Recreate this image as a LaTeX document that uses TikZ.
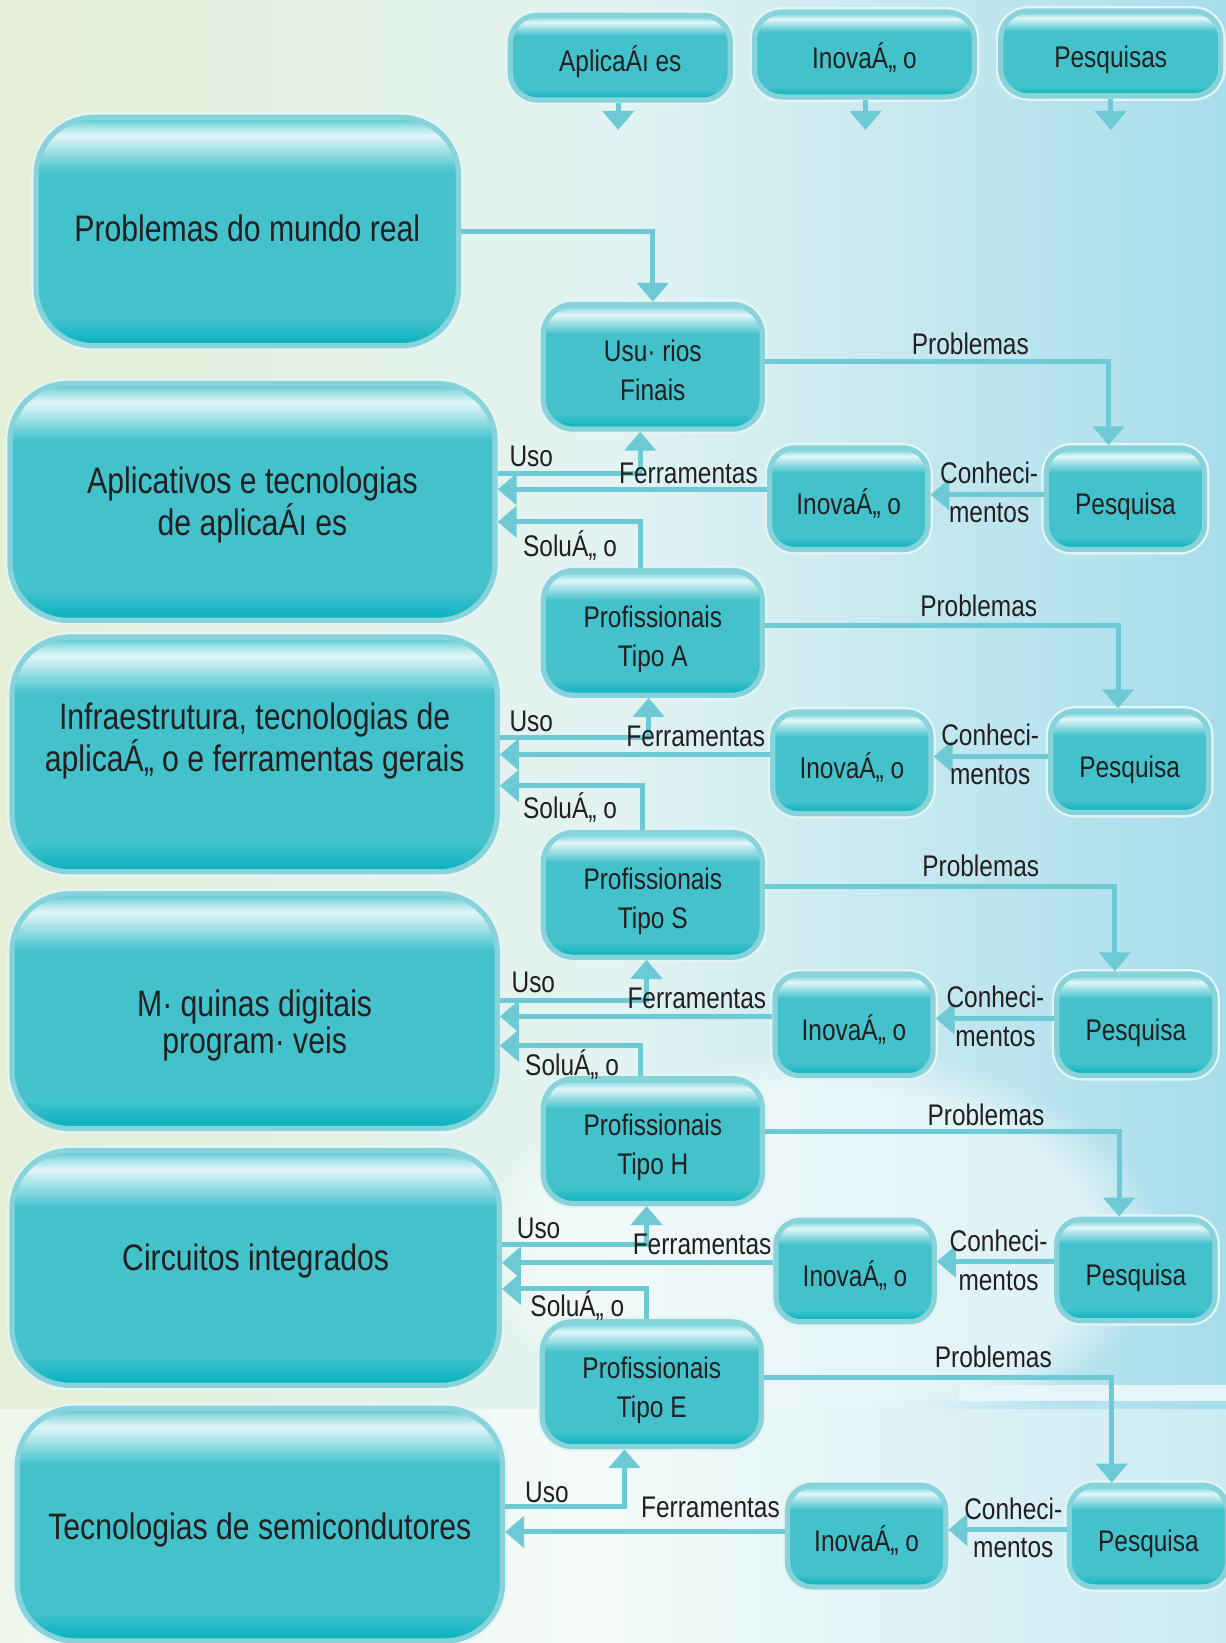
\documentclass[tikz,border=0pt]{standalone}
\usepackage{fontspec}
\setmainfont{Liberation Sans}[FakeStretch=0.82]
\usetikzlibrary{arrows.meta, fadings}

\definecolor{ink}{HTML}{231F20}
\definecolor{tealmain}{HTML}{43C2CC}
\definecolor{tealdark}{HTML}{03B0BE}
\definecolor{tealhi}{HTML}{E2F6F8}
\definecolor{rim}{HTML}{88D2DA}
\definecolor{glow}{HTML}{E4F5F6}
\definecolor{flowc}{HTML}{6DCAD4}
\definecolor{bgleft}{HTML}{E6F0D6}
\definecolor{bgmid}{HTML}{E2F3F2}
\definecolor{bgright}{HTML}{A8DDEC}
\definecolor{lowleft}{HTML}{EEF6EC}
\definecolor{lowmid}{HTML}{F3FAF8}
\definecolor{lowright}{HTML}{CBEBF3}

\newlength\pxu
\setlength\pxu{0.021cm}

\pgfdeclareverticalshading{glossy}{100bp}{color(0bp)=(tealdark); color(25bp)=(tealdark); color(28bp)=(tealdark!50!tealmain); color(31bp)=(tealmain); color(63bp)=(tealmain); color(71bp)=(tealhi); color(73.5bp)=(tealmain!50!tealhi); color(75bp)=(tealmain); color(100bp)=(tealmain)}

\begin{document}
\begin{tikzpicture}[
        x=\pxu, y=-\pxu,
        every node/.style={text=ink, align=center, inner sep=0pt, font=\fontsize{17}{22}\selectfont},
        box/.style={shading=glossy, draw=rim, line width=3pt, preaction={draw=glow, line width=5.6pt}},
        big_box/.style={box, rounded corners=1.15cm, minimum width=463*\pxu, minimum height=224*\pxu, font=\fontsize{21}{21}\selectfont, text depth=0pt},
        mid_box/.style={box, rounded corners=0.6cm, minimum width=209*\pxu, minimum height=119*\pxu, text height=38pt, text depth=0pt},
        small_box/.style={box, rounded corners=0.5cm, minimum width=151*\pxu, minimum height=97*\pxu, text height=18pt, text depth=0pt},
        top_box/.style={box, rounded corners=0.55cm, minimum width=210*\pxu, minimum height=81*\pxu, text height=16pt, text depth=0pt},
        flow/.style={draw=flowc, line width=0.1cm, -{Triangle[length=0.38cm, width=0.62cm]}}
        ]
    \useasboundingbox (0,0) rectangle (1170,1568);
    % background
    \shade[left color=bgleft, right color=bgright, middle color=bgmid] (0,0) rectangle (1170,1345);
    \fill[white, opacity=0.55, path fading=circle with fuzzy edge 20 percent] (780,1190) ellipse (330 and 190);
    \shade[left color=lowleft, right color=lowright, middle color=lowmid] (0,1345) rectangle (1170,1568);
    \fill[white!70!bgright] (915,1322) rectangle (1170,1337);

    % top row
    \node[top_box] (top_app) at (592,55) {AplicaÁı es};
    \node[top_box] (top_inov) at (825,52) {InovaÁ„ o};
    \node[top_box] (top_pesq) at (1060,51) {Pesquisas};
    \coordinate (app_out) at (590,124);
    \coordinate (inov_out) at (826,124);
    \coordinate (pesq_out) at (1060,124);
    \draw[flow] (top_app.south -| app_out) -- (app_out);
    \draw[flow] (top_inov.south -| inov_out) -- (inov_out);
    \draw[flow] (top_pesq.south -| pesq_out) -- (pesq_out);

    % left column
    \node[big_box, minimum width=403*\pxu, minimum height=218*\pxu, text height=15pt, text depth=3.6pt] (real) at (236,221) {Problemas do mundo real};
    \node[big_box, minimum height=226*\pxu, text height=37.8pt] (apps) at (241,479) {Aplicativos e tecnologias\\de aplicaÁı es};
    \node[big_box, text height=19.2pt] (infra) at (243,720) {Infraestrutura, tecnologias de\\aplicaÁ„ o e ferramentas gerais};
    \node[big_box, text height=48.4pt] (maq) at (243,965) {M· quinas digitais\\program· veis};
    \node[big_box, minimum width=465*\pxu, text height=15pt, text depth=11.8pt] (ci) at (244,1210) {Circuitos integrados};
    \node[big_box, minimum height=222*\pxu, text height=17.4pt] (semi) at (248,1455) {Tecnologias de semicondutores};

    % middle column
    \node[mid_box] (users) at (623,350) {Usu· rios\\Finais};
    \node[mid_box] (tipo_a) at (623,604) {Profissionais\\Tipo A};
    \node[mid_box] (tipo_s) at (623,854) {Profissionais\\Tipo S};
    \node[mid_box] (tipo_h) at (623,1089) {Profissionais\\Tipo H};
    \node[mid_box] (tipo_e) at (622,1321) {Profissionais\\Tipo E};

    % innovation and research
    \node[small_box] (inov1) at (810,476) {InovaÁ„ o};
    \node[small_box] (inov2) at (813,728) {InovaÁ„ o};
    \node[small_box] (inov3) at (815,978) {InovaÁ„ o};
    \node[small_box] (inov4) at (816,1213) {InovaÁ„ o};
    \node[small_box] (inov5) at (827,1466) {InovaÁ„ o};
    \node[small_box] (pesq1) at (1074,476) {Pesquisa};
    \node[small_box] (pesq2) at (1078,727) {Pesquisa};
    \node[small_box] (pesq3) at (1084,978) {Pesquisa};
    \node[small_box] (pesq4) at (1084,1212) {Pesquisa};
    \node[small_box] (pesq5) at (1096,1466) {Pesquisa};

    % row 1
    \draw[flow] (real.east) -| (users.north);
    \draw[flow] (users.east |- 0,345) -| (1058,0 |- pesq1.north);
    \draw[flow] (pesq1.west |- 0,472) -- (inov1.east |- 0,472);
    \draw[flow] (inov1.west |- 0,467) -- (apps.east |- 0,467);
    \draw[flow] (apps.east |- 0,452) -| (611,0 |- users.south);
    \draw[flow] (611,0 |- tipo_a.north) |- (apps.east |- 0,498);
    \node (prob_1) at (926,328) {Problemas};
    \node (con_1) at (944,470) {Conheci-\\mentos};
    \node (ferr_1) at (657,452) {Ferramentas};
    \node (uso_1) at (507,436) {Uso};
    \node (sol_1) at (544,521) {SoluÁ„ o};

    % row 2
    \draw[flow] (tipo_a.east |- 0,597) -| (1067,0 |- pesq2.north);
    \draw[flow] (pesq2.west |- 0,722) -- (inov2.east |- 0,722);
    \draw[flow] (inov2.west |- 0,720) -- (infra.east |- 0,720);
    \draw[flow] (infra.east |- 0,704) -| (619,0 |- tipo_a.south);
    \draw[flow] (613,0 |- tipo_s.north) |- (infra.east |- 0,750);
    \node (prob_2) at (934,578) {Problemas};
    \node (con_2) at (945,720) {Conheci-\\mentos};
    \node (ferr_2) at (664,703) {Ferramentas};
    \node (uso_2) at (507,688) {Uso};
    \node (sol_2) at (544,771) {SoluÁ„ o};

    % row 3
    \draw[flow] (tipo_s.east |- 0,846) -| (1064,0 |- pesq3.north);
    \draw[flow] (pesq3.west |- 0,972) -- (inov3.east |- 0,972);
    \draw[flow] (inov3.west |- 0,970) -- (maq.east |- 0,970);
    \draw[flow] (maq.east |- 0,955) -| (617,0 |- tipo_s.south);
    \draw[flow] (611,0 |- tipo_h.north) |- (maq.east |- 0,998);
    \node (prob_3) at (936,826) {Problemas};
    \node (con_3) at (950,970) {Conheci-\\mentos};
    \node (ferr_3) at (665,953) {Ferramentas};
    \node (uso_3) at (509,938) {Uso};
    \node (sol_3) at (546,1016) {SoluÁ„ o};

    % row 4
    \draw[flow] (tipo_h.east |- 0,1080) -| (1068,0 |- pesq4.north);
    \draw[flow] (pesq4.west |- 0,1204) -- (inov4.east |- 0,1204);
    \draw[flow] (inov4.west |- 0,1205) -- (ci.east |- 0,1205);
    \draw[flow] (ci.east |- 0,1188) -| (617,0 |- tipo_h.south);
    \draw[flow] (617,0 |- tipo_e.north) |- (ci.east |- 0,1230);
    \node (prob_4) at (941,1064) {Problemas};
    \node (con_4) at (953,1203) {Conheci-\\mentos};
    \node (ferr_4) at (670,1188) {Ferramentas};
    \node (uso_4) at (514,1172) {Uso};
    \node (sol_4) at (551,1246) {SoluÁ„ o};

    % row 5
    \draw[flow] (tipo_e.east |- 0,1315) -| (1061,0 |- pesq5.north);
    \draw[flow] (pesq5.west |- 0,1460) -- (inov5.east |- 0,1460);
    \draw[flow] (inov5.west |- 0,1462) -- (semi.east |- 0,1462);
    \draw[flow] (semi.east |- 0,1438) -| (596,0 |- tipo_e.south);
    \node (prob_5) at (948,1295) {Problemas};
    \node (con_5) at (967,1458) {Conheci-\\mentos};
    \node (ferr_5) at (678,1439) {Ferramentas};
    \node (uso_5) at (522,1424) {Uso};
\end{tikzpicture}
\end{document}
